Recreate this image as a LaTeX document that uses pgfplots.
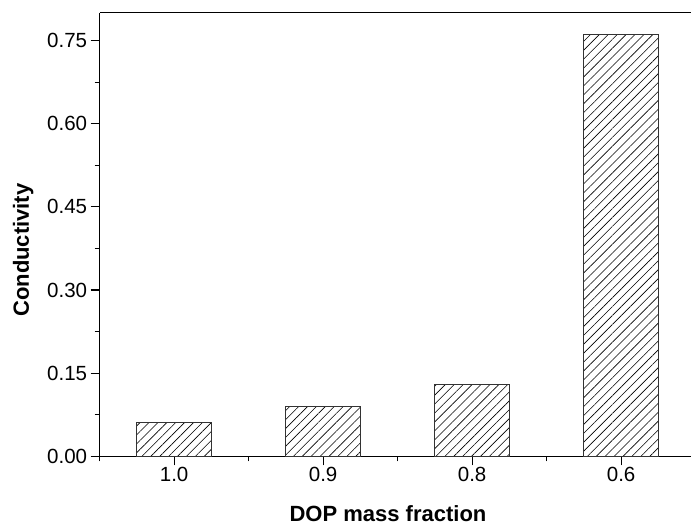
\documentclass[border=0pt]{standalone}
\usepackage{fontspec}
\setmainfont{Liberation Sans}
\usepackage{pgfplots}
\pgfplotsset{compat=1.18}
\usetikzlibrary{patterns.meta}

\begin{document}
\begin{tikzpicture}
\begin{axis}[
  scale only axis,
  width=591.4pt, height=443.6pt,
  xmin=0.5, xmax=4.469,
  ymin=0, ymax=0.80,
  axis x line*=box,
  axis y line*=left,
  axis line style={line width=1.4pt},
  ybar, bar width=0.5, bar shift=0pt,
  xtick={1,2,3,4},
  xticklabels={1.0,0.9,0.8,0.6},
  minor xtick={0.5,1.5,2.5,3.5},
  xtick pos=bottom,
  ytick={0,0.15,0.30,0.45,0.60,0.75},
  minor ytick={0.075,0.225,0.375,0.525,0.675},
  ytick pos=left,
  tick align=outside,
  major tick length=9pt,
  minor tick length=5pt,
  tick style={line width=1.2pt, black},
  /pgf/number format/assume math mode=true,
  yticklabel style={/pgf/number format/.cd, fixed, fixed zerofill, precision=2},
  ticklabel style={font=\fontsize{20.5}{24}\selectfont},
  xticklabel style={inner sep=1.5pt},
  xlabel={DOP mass fraction},
  ylabel={Conductivity},
  label style={font=\fontsize{22}{26}\selectfont\bfseries},
  xlabel style={at={(axis description cs:0.4877,-0.1475)}, anchor=base},
  ylabel style={at={(axis description cs:-0.1197,0.465)}, anchor=base},
]
\addplot[draw=black!80, line width=0.9pt,
  pattern={Lines[angle=45,distance=6.3pt,line width=0.6pt]}]
  coordinates {(1,0.0606) (2,0.0897) (3,0.1302) (4,0.7603)};
\end{axis}
\pgfresetboundingbox
\path (current axis.south west) ++(-99.6pt,-70.6pt) coordinate (bbsw);
\path (current axis.north east) ++(0pt,12.8pt) coordinate (bbne);
\useasboundingbox (bbsw) rectangle (bbne);
\end{tikzpicture}
\end{document}
